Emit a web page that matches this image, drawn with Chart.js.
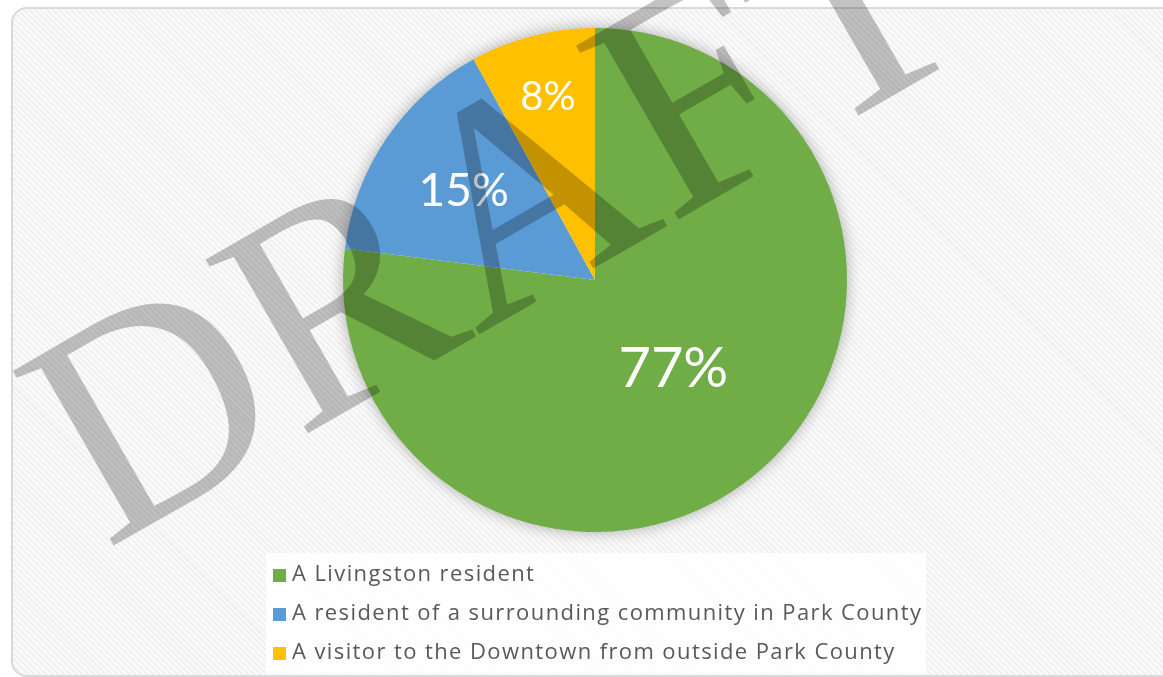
<!DOCTYPE html>
<html>
<head>
<meta charset="utf-8">
<script src="https://cdn.jsdelivr.net/npm/chart.js@4"></script>
<style>
  html, body { margin: 0; padding: 0; background: #fff; }
  #wrap { position: relative; width: 1163px; height: 677px; overflow: hidden; }
  #frame {
    position: absolute; left: 11px; top: 7px; width: 1180px; height: 666px;
    border: 2px solid #d9d9d9; border-radius: 16px;
    background: repeating-linear-gradient(45deg, #fbfbfb 0px, #fbfbfb 2px, #f1f1f1 2px, #f1f1f1 4.2px);
  }
  #pie { position: absolute; left: 0; top: 0; }
  #legend {
    position: absolute; left: 266px; top: 553px; width: 660px; height: 122px;
    background: rgba(255, 255, 255, 0.85);
    font-family: "Open Sans", sans-serif; font-size: 22px; color: #595959;
    letter-spacing: 1.4px;
  }
  #legend div { position: absolute; left: 7px; height: 39px; line-height: 39px; white-space: nowrap; }
  #legend span.box { display: inline-block; width: 13px; height: 13px; margin-right: 6px; vertical-align: -1px; }
</style>
</head>
<body>
<div id="wrap">
  <div id="frame"></div>
  <canvas id="pie" width="1163" height="677"></canvas>
  <div id="legend"></div>
</div>
<script>
const categories = [
  "A Livingston resident",
  "A resident of a surrounding community in Park County",
  "A visitor to the Downtown from outside Park County"
];
const shares = [77, 15, 8];
const colors = ["#70AD47", "#5B9BD5", "#FFC000"];

// label placement (fraction of radius) and size per slice
const labelRadius = [0.47, 0.63, 0.75];
const labelSize = [56, 46, 40];

// soft shadow under the whole pie
const pieShadow = {
  id: "pieShadow",
  beforeDatasetsDraw(chart) {
    const arc = chart.getDatasetMeta(0).data[0];
    const ctx = chart.ctx;
    ctx.save();
    ctx.shadowColor = "rgba(0,0,0,0.35)";
    ctx.shadowBlur = 16;
    ctx.fillStyle = "#ffffff";
    ctx.beginPath();
    ctx.arc(arc.x, arc.y, arc.outerRadius - 1, 0, Math.PI * 2);
    ctx.fill();
    ctx.restore();
  }
};

// percentage labels inside the slices
const sliceLabels = {
  id: "sliceLabels",
  afterDatasetsDraw(chart) {
    const ctx = chart.ctx;
    const meta = chart.getDatasetMeta(0);
    ctx.save();
    ctx.fillStyle = "#ffffff";
    ctx.textAlign = "center";
    ctx.textBaseline = "middle";
    meta.data.forEach((arc, i) => {
      const mid = (arc.startAngle + arc.endAngle) / 2;
      const r = arc.outerRadius * labelRadius[i];
      ctx.font = `${labelSize[i]}px Lato, sans-serif`;
      ctx.fillText(shares[i] + "%", arc.x + Math.cos(mid) * r, arc.y + Math.sin(mid) * r);
    });
    ctx.restore();
  }
};

// DRAFT stamp across the page
const draftMark = {
  id: "draftMark",
  afterDraw(chart) {
    const ctx = chart.ctx;
    ctx.save();
    ctx.translate(106, 550);
    ctx.rotate(-30 * Math.PI / 180);
    ctx.font = "308px 'Liberation Serif', serif";
    ctx.fillStyle = "rgba(0,0,0,0.24)";
    ctx.textBaseline = "alphabetic";
    ctx.fillText("DRAFT", 0, 0);
    ctx.restore();
  }
};

new Chart(document.getElementById("pie"), {
  type: "pie",
  data: {
    labels: categories,
    datasets: [{
      data: shares,
      backgroundColor: colors,
      borderWidth: 0
    }]
  },
  options: {
    responsive: false,
    animation: false,
    layout: { padding: { left: 343, right: 316, top: 28, bottom: 145 } },
    plugins: {
      legend: { display: false },
      tooltip: { enabled: false }
    }
  },
  plugins: [pieShadow, sliceLabels, draftMark]
});

// legend rows
const legend = document.getElementById("legend");
categories.forEach((name, i) => {
  const row = document.createElement("div");
  row.style.top = (i * 39) + "px";
  row.innerHTML = `<span class="box" style="background:${colors[i]}"></span>${name}`;
  legend.appendChild(row);
});
</script>
</body>
</html>
